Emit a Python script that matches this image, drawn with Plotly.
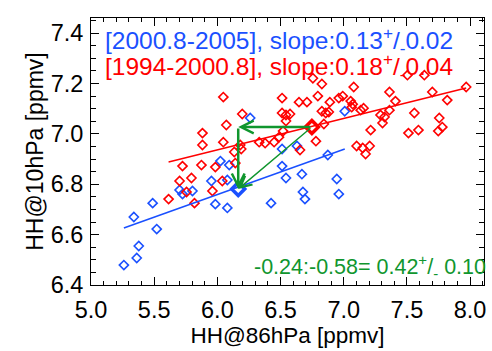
import plotly.graph_objects as go

# Period 1994-2000.8 (red)
red_x = [5.614, 5.701, 5.724, 5.756, 5.795, 5.819, 5.874, 5.882, 5.882, 5.961, 5.984, 6.039,
         6.047, 6.047, 6.071, 6.134, 6.142, 6.189, 6.197, 6.181, 6.331, 6.378, 6.449, 6.488,
         6.520, 6.512, 6.512, 6.543, 6.575, 6.543, 6.646, 6.709, 6.654, 6.756, 6.827, 6.795,
         6.890, 6.961, 6.992, 6.827, 6.858, 6.882, 6.843, 6.780, 7.079, 7.055, 7.071, 7.063,
         7.134, 7.157, 7.213, 7.102, 7.150, 7.205, 7.173, 7.362, 7.409, 7.362, 7.291, 7.323,
         7.307, 7.504, 7.638, 7.701, 7.819, 7.559, 7.756, 7.780, 7.748, 7.512, 7.591, 7.969]
red_y = [6.741, 6.813, 6.872, 6.769, 6.825, 6.725, 6.876, 7.003, 6.956, 6.773, 6.868, 6.813,
         7.146, 6.967, 7.035, 6.928, 6.884, 6.940, 7.079, 6.956, 6.967, 6.963, 6.967, 6.987,
         7.011, 7.142, 7.083, 7.075, 7.079, 7.051, 7.126, 7.126, 6.936, 7.221, 7.198, 7.150,
         7.126, 7.142, 7.150, 7.090, 7.083, 7.087, 7.039, 6.971, 7.186, 7.130, 7.118, 7.106,
         7.094, 7.102, 7.015, 6.952, 6.944, 6.952, 6.920, 7.166, 7.130, 7.094, 7.075, 7.067,
         7.043, 7.233, 7.233, 7.166, 7.134, 7.083, 7.063, 7.027, 7.011, 7.003, 7.015, 7.186]

# Period 2000.8-2005 (blue)
blue_x = [5.260, 5.362, 5.378, 5.520, 5.339, 5.488, 5.701, 5.724, 5.803, 5.953, 6.024, 6.079,
          6.094, 5.984, 6.079, 6.260, 6.425, 6.512, 6.630, 6.512, 6.543, 6.669, 6.677, 6.693,
          6.874, 6.945, 6.961, 7.008]
blue_y = [6.479, 6.507, 6.555, 6.622, 6.670, 6.725, 6.777, 6.761, 6.773, 6.813, 6.892, 6.817,
          6.876, 6.721, 6.706, 7.063, 6.725, 6.940, 6.952, 6.872, 6.825, 6.840, 6.769, 6.741,
          6.916, 6.821, 6.761, 7.090]

# Fit lines
red_fit_x = [5.614, 7.969]
red_fit_y = [6.888, 7.182]
blue_fit_x = [5.260, 7.008]
blue_fit_y = [6.626, 6.940]

# Means
red_mean = (6.748, 7.027)
blue_mean = (6.165, 6.781)

# Texts
blue_label = "[2000.8-2005], slope:0.13<sup>+</sup>/<sub>-</sub>0.02"
red_label = "[1994-2000.8], slope:0.18<sup>+</sup>/<sub>-</sub>0.04"
green_label = "-0.24:-0.58= 0.42<sup>+</sup>/<sub>-</sub> 0.10"

x_ticks = [5.0, 5.5, 6.0, 6.5, 7.0, 7.5, 8.0]
y_ticks = [6.4, 6.6, 6.8, 7.0, 7.2, 7.4]

RED = "#ff0000"
BLUE = "#1a50ff"
GREEN = "#10962e"
FONT = "Liberation Sans, Arial, sans-serif"

fig = go.Figure()
fig.add_trace(go.Scatter(x=blue_x, y=blue_y, mode="markers",
                         marker=dict(symbol="diamond-open", size=7, color=BLUE,
                                     line=dict(width=1.6, color=BLUE))))
fig.add_trace(go.Scatter(x=red_x, y=red_y, mode="markers",
                         marker=dict(symbol="diamond-open", size=7, color=RED,
                                     line=dict(width=1.6, color=RED))))
fig.add_trace(go.Scatter(x=red_fit_x, y=red_fit_y, mode="lines",
                         line=dict(color=RED, width=1.5)))
fig.add_trace(go.Scatter(x=blue_fit_x, y=blue_fit_y, mode="lines",
                         line=dict(color=BLUE, width=1.5)))
fig.add_trace(go.Scatter(x=[red_mean[0]], y=[red_mean[1]], mode="markers",
                         marker=dict(symbol="diamond-open", size=10, color=RED,
                                     line=dict(width=3.5, color=RED))))
fig.add_trace(go.Scatter(x=[blue_mean[0]], y=[blue_mean[1]], mode="markers",
                         marker=dict(symbol="diamond-open", size=10, color=BLUE,
                                     line=dict(width=3.5, color=BLUE))))

# Arrows
fig.add_annotation(x=blue_mean[0], y=red_mean[1], ax=red_mean[0], ay=red_mean[1],
                   xref="x", yref="y", axref="x", ayref="y", text="", showarrow=True,
                   arrowhead=5, arrowwidth=2.5, arrowsize=1.0, arrowcolor=GREEN)
fig.add_annotation(x=blue_mean[0], y=blue_mean[1], ax=blue_mean[0], ay=red_mean[1],
                   xref="x", yref="y", axref="x", ayref="y", text="", showarrow=True,
                   arrowhead=5, arrowwidth=2.5, arrowsize=1.0, arrowcolor=GREEN)
fig.add_annotation(x=blue_mean[0], y=blue_mean[1], ax=red_mean[0], ay=red_mean[1],
                   xref="x", yref="y", axref="x", ayref="y", text="", showarrow=True,
                   arrowhead=5, arrowwidth=1.4, arrowsize=1.6, arrowcolor=GREEN)

fig.add_annotation(x=0.03, y=0.916, xref="paper", yref="paper", text=blue_label,
                   showarrow=False, xanchor="left", yanchor="middle",
                   font=dict(family=FONT, size=24.5, color=BLUE))
fig.add_annotation(x=0.03, y=0.818, xref="paper", yref="paper", text=red_label,
                   showarrow=False, xanchor="left", yanchor="middle",
                   font=dict(family=FONT, size=24.5, color=RED))
fig.add_annotation(x=1.009, y=0.068, xref="paper", yref="paper", text=green_label,
                   showarrow=False, xanchor="right", yanchor="middle",
                   font=dict(family=FONT, size=21.5, color=GREEN))

axis_common = dict(showline=True, linecolor="black", linewidth=1, mirror="ticks",
                   ticks="inside", ticklen=8, tickwidth=1, tickcolor="black",
                   showgrid=False, zeroline=False, tickformat=".1f",
                   tickfont=dict(family=FONT, size=23.5, color="black"))

fig.update_xaxes(range=[5.0, 8.11], tickvals=x_ticks, ticklabelstandoff=4,
                 minor=dict(dtick=0.1, ticks="inside", ticklen=4, tickcolor="black"),
                 title=dict(text="HH@86hPa [ppmv]", standoff=2,
                            font=dict(family=FONT, size=22.5, color="black")),
                 **axis_common)
fig.update_yaxes(range=[6.4, 7.46], tickvals=y_ticks, ticklabelstandoff=2,
                 minor=dict(dtick=0.05, ticks="inside", ticklen=5, tickcolor="black"),
                 title=dict(text="HH@10hPa [ppmv]", standoff=0,
                            font=dict(family=FONT, size=23, color="black")),
                 **axis_common)

fig.update_layout(width=492, height=351, margin=dict(l=91, r=6, t=18, b=66),
                  plot_bgcolor="white", paper_bgcolor="white", showlegend=False,
                  font=dict(family=FONT))

fig.write_html("out.html")
